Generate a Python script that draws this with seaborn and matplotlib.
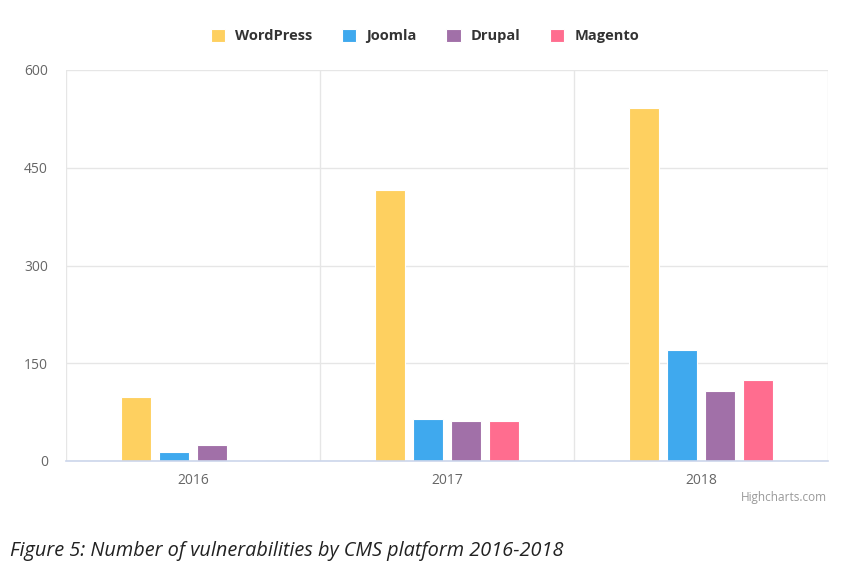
import matplotlib
matplotlib.use("Agg")
import matplotlib.pyplot as plt
import seaborn as sns
import pandas as pd
from matplotlib.patches import Patch

years = ["2016", "2017", "2018"]
platforms = ["WordPress", "Joomla", "Drupal", "Magento"]
wordpress = [98, 416, 541]
joomla = [14, 65, 171]
drupal = [24, 62, 107]
magento = [1, 62, 125]
colors = ["#FED060", "#3FA9EE", "#A170A8", "#FF6D8F"]
y_ticks = [0, 150, 300, 450, 600]

rows = []
for name, vals in zip(platforms, [wordpress, joomla, drupal, magento]):
    for y, v in zip(years, vals):
        rows.append({"Year": y, "Platform": name, "Count": v})
df = pd.DataFrame(rows)

sns.set_style("white")
plt.rcParams["font.family"] = ["Open Sans", "DejaVu Sans"]

fig = plt.figure(figsize=(8.56, 5.75), dpi=100)
ax = fig.add_axes([66/856, 1-461/575, (828-66)/856, (461-70)/575])

sns.barplot(data=df, x="Year", y="Count", hue="Platform", order=years,
            hue_order=platforms, palette=colors, width=0.6, gap=0.21,
            edgecolor="white", linewidth=0.8, saturation=1, ax=ax,
            legend=False, zorder=3)

ax.set_xlim(-0.5, 2.5)
ax.set_ylim(0, 600)
ax.set_yticks(y_ticks)
ax.set_yticklabels([str(t) for t in y_ticks])
ax.set_xlabel("")
ax.set_ylabel("")
for s in ["left", "right", "top"]:
    ax.spines[s].set_visible(False)
ax.spines["bottom"].set_color("#ccd6eb")
ax.spines["bottom"].set_linewidth(1.2)
ax.spines["bottom"].set_zorder(4)
ax.yaxis.grid(True, color="#e6e6e6", linewidth=1)
for xv in [-0.5, 0.5, 1.5, 2.5]:
    ax.axvline(xv, color="#e6e6e6", linewidth=1, zorder=0)
ax.set_axisbelow(True)
ax.tick_params(axis="y", length=0, pad=13, labelsize=10, labelcolor="#666666")
ax.tick_params(axis="x", length=0, pad=9, labelsize=10, labelcolor="#666666")

handles = [Patch(facecolor=c, edgecolor="white", linewidth=0.8) for c in colors]
leg = fig.legend(handles, platforms, loc="center", bbox_to_anchor=(425/856, 1-36/575),
                 ncol=4, frameon=False, handlelength=1.0, handleheight=1.0,
                 handletextpad=0.7, columnspacing=2.0,
                 prop={"family": "Open Sans", "weight": "bold", "size": 10.5})
for t in leg.get_texts():
    t.set_color("#333333")

fig.text(827/856, 1-497/575, "Highcharts.com", ha="right", va="center",
         fontsize=8.5, color="#999999")
fig.text(10/856, 1-551/575, "Figure 5: Number of vulnerabilities by CMS platform 2016-2018",
         ha="left", va="center", fontsize=14.3, style="italic", color="#222222")

fig.savefig("out.png", dpi=100)
